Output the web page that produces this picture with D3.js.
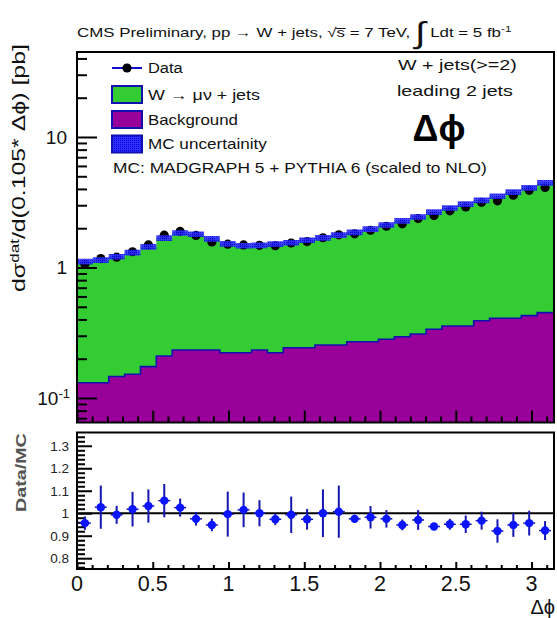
<!DOCTYPE html>
<html><head><meta charset="utf-8">
<script src="https://cdn.jsdelivr.net/npm/d3@7"></script>
<style>body{margin:0;background:#fff;} text{font-family:"Liberation Sans",Arial,sans-serif;fill:#111;}</style>
</head><body><svg id="c" width="557" height="618"></svg>
<script>
// ---- data ----
const nBins = 30;
const xMax = Math.PI;           // Δφ range 0..π, bin width 0.105
const mcTotal = [1.11,1.14,1.21,1.30,1.44,1.68,1.84,1.80,1.66,1.52,1.47,1.48,1.51,1.55,1.62,1.69,1.77,1.86,1.97,2.12,2.28,2.44,2.66,2.86,3.06,3.27,3.52,3.78,4.08,4.45];
const background = [0.131,0.131,0.146,0.152,0.174,0.210,0.233,0.233,0.233,0.222,0.222,0.233,0.222,0.243,0.243,0.255,0.255,0.270,0.270,0.282,0.295,0.309,0.336,0.356,0.356,0.391,0.408,0.408,0.428,0.451];
const dataVals = [1.06,1.17,1.20,1.32,1.49,1.77,1.89,1.76,1.57,1.51,1.49,1.48,1.47,1.54,1.58,1.69,1.78,1.81,1.93,2.07,2.16,2.37,2.50,2.72,2.91,3.16,3.24,3.58,3.90,4.11];
const mcUncert = 0.05;
const ratio = [0.956,1.027,0.993,1.018,1.032,1.056,1.025,0.975,0.948,0.996,1.015,1.0,0.973,0.993,0.973,1.0,1.007,0.975,0.982,0.975,0.948,0.970,0.941,0.951,0.951,0.967,0.921,0.948,0.956,0.923];
const ratioErr = [0.03,0.096,0.04,0.077,0.074,0.074,0.04,0.03,0.028,0.1,0.077,0.058,0.026,0.081,0.046,0.106,0.116,0.018,0.05,0.039,0.024,0.044,0.012,0.024,0.039,0.04,0.052,0.053,0.055,0.042];
const xTicks = [0,0.5,1,1.5,2,2.5,3];
const yTicksUpper = [0.1,1,10];
const yTicksLower = [0.8,0.9,1,1.1,1.2,1.3];
const legendLabels = ["Data","W → μν + jets","Background","MC uncertainity"];

// ---- layout ----
const svg = d3.select("#c");
const L = 77, R = 553;
const uTop = 52, uBot = 422.5;
const lTop = 432.5, lBot = 569;
const x = d3.scaleLinear().domain([0, xMax]).range([L, R]);
const y = d3.scaleLog().domain([0.0649, 44.8]).range([uBot, uTop]);
const yr = d3.scaleLinear().domain([0.752, 1.359]).range([lBot, lTop]);
const bw = xMax / nBins;
const edge = i => i * bw;
const center = i => (i + 0.5) * bw;

// stretch a text along its direction to a target length
function fit(t, w, rot){ const n = t.node(); const bb = n.getBBox(); const s = w / bb.width;
  const x0 = +t.attr("x"), y0 = +t.attr("y");
  t.attr("x",0).attr("y",0).attr("transform",`translate(${x0},${y0})${rot?` rotate(${rot})`:""} scale(${s},1)`); }

const defs = svg.append("defs");
const pat = defs.append("pattern").attr("id","hatch").attr("width",2).attr("height",2).attr("patternUnits","userSpaceOnUse");
pat.append("rect").attr("width",2).attr("height",2).attr("fill","#3030ff");
pat.append("rect").attr("width",1).attr("height",1).attr("fill","#0000e0");
defs.append("clipPath").attr("id","clipU").append("rect").attr("x",L).attr("y",uTop).attr("width",R-L+1).attr("height",uBot-uTop);

function stepPts(vals){ const p = vals.map((v,i)=>[edge(i),v]); p.push([edge(vals.length), vals[vals.length-1]]); return p; }

const gU = svg.append("g").attr("clip-path","url(#clipU)");
gU.append("path").datum(stepPts(mcTotal))
  .attr("d", d3.area().x(d=>x(d[0])).y0(uBot).y1(d=>y(d[1])).curve(d3.curveStepAfter))
  .attr("fill","#33cc33");
gU.append("path").datum(stepPts(background))
  .attr("d", d3.area().x(d=>x(d[0])).y0(uBot).y1(d=>y(d[1])).curve(d3.curveStepAfter))
  .attr("fill","#990099");
gU.append("path").datum(stepPts(background))
  .attr("d", d3.line().x(d=>x(d[0])).y(d=>y(d[1])).curve(d3.curveStepAfter))
  .attr("fill","none").attr("stroke","#1010b0").attr("stroke-width",1.6);
gU.selectAll("circle.d").data(dataVals).join("circle")
  .attr("cx",(d,i)=>x(center(i))).attr("cy",d=>y(d)).attr("r",4.6).attr("fill","#000");
gU.append("path").datum(stepPts(mcTotal))
  .attr("d", d3.area().x(d=>x(d[0])).y0(d=>y(d[1]*(1-mcUncert))).y1(d=>y(d[1]*(1+mcUncert))).curve(d3.curveStepAfter))
  .attr("fill","url(#hatch)").attr("opacity",0.9);

// upper axes
const yMajor = d3.axisLeft(y).tickValues(yTicksUpper).tickSize(-20).tickFormat("");
const minorVals = [];
[0.01,0.1,1,10].forEach(dec=>{ for(let k=2;k<=9;k++){ const v=dec*k; if(v>0.0649 && v<44.8) minorVals.push(v);} });
const yMinor = d3.axisLeft(y).tickValues(minorVals).tickSize(-10).tickFormat("");
function styleAxis(g){ g.select(".domain").remove(); g.selectAll("line").attr("stroke","#000").attr("stroke-width",2); }
svg.append("g").attr("transform",`translate(${L},0)`).call(yMajor).call(styleAxis);
svg.append("g").attr("transform",`translate(${L},0)`).call(yMinor).call(styleAxis);
const xMinorVals = d3.range(0, 32).map(i=>i/10).filter(v=>v<=xMax && Math.abs(v*2-Math.round(v*2))>1e-6);
svg.append("g").attr("transform",`translate(0,${uBot})`).call(d3.axisBottom(x).tickValues(xTicks).tickSize(-12).tickFormat("")).call(styleAxis);
svg.append("g").attr("transform",`translate(0,${uBot})`).call(d3.axisBottom(x).tickValues(xMinorVals).tickSize(-6).tickFormat("")).call(styleAxis);
const yl = svg.append("g");
yTicksUpper.forEach(v=>{
  const t = yl.append("text").attr("x",67).attr("y",y(v)+7).attr("text-anchor","end").attr("font-size",19);
  if(v===0.1){ t.append("tspan").text("10"); t.append("tspan").attr("dy",-7).attr("font-size",13).text("-1"); t.attr("x",70); }
  else t.text(String(v));
});
svg.append("rect").attr("x",L).attr("y",uTop).attr("width",R-L+1).attr("height",uBot-uTop).attr("fill","none").attr("stroke","#000").attr("stroke-width",2);

// y title upper (centered at y≈168, length ≈ 248)
const yt = svg.append("text").attr("x",25).attr("y",292).attr("font-size",17.5);
yt.append("tspan").text("dσ");
yt.append("tspan").attr("dy",-6).attr("font-size",12).text("dat");
yt.append("tspan").attr("dy",6).text("/d(0.105* Δϕ)  [pb]");
fit(yt, 248, -90);

// header
const hd = svg.append("text").attr("x",77).attr("y",37).attr("font-size",13);
hd.append("tspan").text("CMS Preliminary,  pp → W + jets, √s̅ = 7 TeV, ");
hd.append("tspan").attr("font-size",30).attr("dy",6).text("∫");
hd.append("tspan").attr("dy",-6).text(" Ldt = 5 fb");
hd.append("tspan").attr("dy",-5).attr("font-size",9).text("-1");
fit(hd, 435);

// legend
const lg = svg.append("g");
const lx = 112, lw = 30, lh = 17;
const rows = [68, 94.5, 119.5, 144];
lg.append("line").attr("x1",lx).attr("x2",lx+lw).attr("y1",rows[0]).attr("y2",rows[0]).attr("stroke","#1010d0").attr("stroke-width",2);
lg.append("circle").attr("cx",lx+lw/2).attr("cy",rows[0]).attr("r",4.6).attr("fill","#000");
lg.append("rect").attr("x",lx).attr("y",rows[1]-lh/2).attr("width",lw).attr("height",lh).attr("fill","#33cc33").attr("stroke","#1010b0").attr("stroke-width",2);
lg.append("rect").attr("x",lx).attr("y",rows[2]-lh/2).attr("width",lw).attr("height",lh).attr("fill","#990099").attr("stroke","#1010b0").attr("stroke-width",2);
lg.append("rect").attr("x",lx).attr("y",rows[3]-lh/2).attr("width",lw).attr("height",lh).attr("fill","url(#hatch)").attr("stroke","#1010b0").attr("stroke-width",2);
const legW = [35,112,90,119];
legendLabels.forEach((s,i)=>{ const t = lg.append("text").attr("x",148).attr("y",rows[i]+5).attr("font-size",14).text(s); fit(t, legW[i]); });
fit(lg.append("text").attr("x",113).attr("y",173).attr("font-size",14).text("MC: MADGRAPH 5 + PYTHIA 6 (scaled to NLO)"), 374);
fit(svg.append("text").attr("x",398).attr("y",70).attr("font-size",14).text("W + jets(>=2)"), 119);
fit(svg.append("text").attr("x",397).attr("y",96).attr("font-size",14).text("leading 2 jets"), 116);
svg.append("text").attr("x",439).attr("y",141).attr("text-anchor","middle").attr("font-size",36).attr("font-weight","bold").style("fill","#000").text("Δϕ");

// ---- lower panel ----
const yrMinor = d3.range(76, 136, 2).map(v=>v/100).filter(v=>v>0.752 && v<1.359 && Math.abs(v*10-Math.round(v*10))>1e-6);
svg.append("g").attr("transform",`translate(${L},0)`).call(d3.axisLeft(yr).tickValues(yTicksLower).tickSize(-15).tickFormat("")).call(styleAxis);
svg.append("g").attr("transform",`translate(${L},0)`).call(d3.axisLeft(yr).tickValues(yrMinor).tickSize(-8).tickFormat("")).call(styleAxis);
yTicksLower.forEach(v=>svg.append("text").attr("x",69).attr("y",yr(v)+5).attr("text-anchor","end").attr("font-size",13.5).style("fill","#222").text(v===1?"1":v.toFixed(1)));
svg.append("g").attr("transform",`translate(0,${lBot})`).call(d3.axisBottom(x).tickValues(xTicks).tickSize(-7).tickFormat("")).call(styleAxis);
svg.append("g").attr("transform",`translate(0,${lBot})`).call(d3.axisBottom(x).tickValues(xMinorVals).tickSize(-4).tickFormat("")).call(styleAxis);
xTicks.forEach(v=>svg.append("text").attr("x",x(v)).attr("y",lBot+22).attr("text-anchor","middle").attr("font-size",21.5).text(String(v)));
svg.append("text").attr("x",555).attr("y",614).attr("text-anchor","end").attr("font-size",20).text("Δϕ");
const dm = svg.append("text").attr("x",26).attr("y",512).attr("font-size",15).attr("font-weight","bold").style("fill","#555").text("Data/MC");
fit(dm, 79, -90);
svg.append("line").attr("x1",L).attr("x2",R).attr("y1",yr(1)).attr("y2",yr(1)).attr("stroke","#000").attr("stroke-width",2);
const gR = svg.append("g");
ratio.forEach((r,i)=>{
  const cx = x(center(i));
  gR.append("line").attr("x1",cx).attr("x2",cx).attr("y1",yr(r-ratioErr[i])).attr("y2",yr(r+ratioErr[i])).attr("stroke","#1515b0").attr("stroke-width",2);
  gR.append("line").attr("x1",x(edge(i))+2).attr("x2",x(edge(i+1))-2).attr("y1",yr(r)).attr("y2",yr(r)).attr("stroke","#1515b0").attr("stroke-width",1.5);
  gR.append("circle").attr("cx",cx).attr("cy",yr(r)).attr("r",4.2).attr("fill","#0a14ff");
});
svg.append("rect").attr("x",L).attr("y",lTop).attr("width",R-L+1).attr("height",lBot-lTop).attr("fill","none").attr("stroke","#000").attr("stroke-width",2);
</script></body></html>
